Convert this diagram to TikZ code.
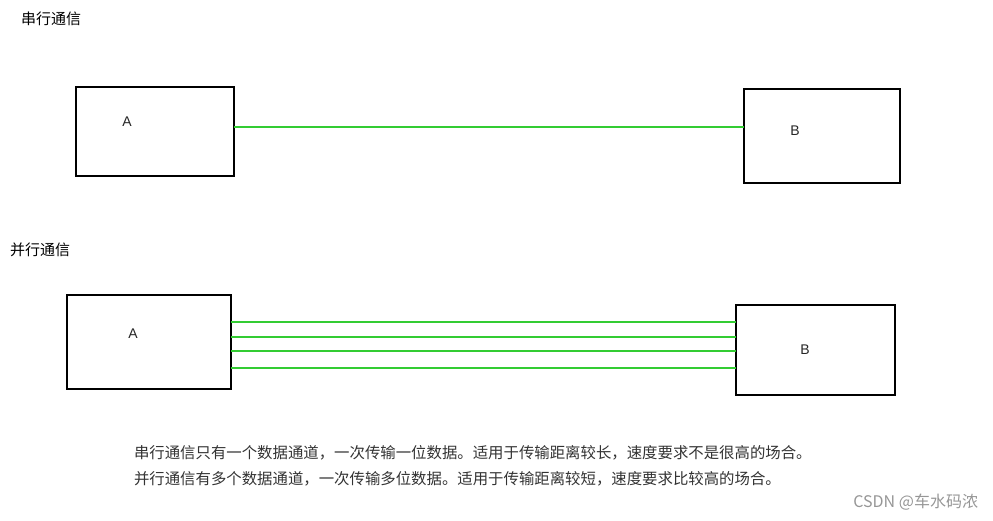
\documentclass[tikz,border=0pt]{standalone}
\usepackage{fontspec}
\newfontfamily\cjk{Noto Sans CJK SC}
\newfontfamily\latn{Liberation Sans}
\usetikzlibrary{positioning,calc}
\definecolor{wiregreen}{RGB}{51,204,51}
\definecolor{notegray}{RGB}{51,51,51}
\definecolor{markgray}{RGB}{150,150,150}

\begin{document}
\begin{tikzpicture}[
  x=1pt, y=-1pt,
  every node/.style={inner sep=0pt, outer sep=0pt},
  %% ─── styles ─────────────────────────────────────────
  heading/.style={anchor=west, font=\cjk\fontsize{15}{17}\selectfont, text=black},
  note/.style={anchor=west, font=\cjk\fontsize{15.4}{18}\selectfont, text=notegray},
  device/.style={draw=black, line width=2pt, fill=white},
  tag/.style={font=\latn\fontsize{14}{16}\selectfont, text=black!85},
  wire/.style={draw=wiregreen, line width=2pt}
]
  \useasboundingbox (0,0) rectangle (993,521);

  %% ════════════════════════════════════════════════════
  %%  串行通信
  %% ════════════════════════════════════════════════════
  \node[heading] (serialtitle) at (21,19) {串行通信};
  \node[device, minimum width=158pt, minimum height=89pt] (sA) at (155,131.5) {};
  \node[device, minimum width=156pt, minimum height=94pt] (sB) at (822,136) {};
  \node[tag] (sAtag) at (127,122) {A};
  \node[tag] (sBtag) at (795,131) {B};

  % single data channel
  \draw[wire] (sA.east |- 0,127) -- (sB.west |- 0,127);

  %% ════════════════════════════════════════════════════
  %%  并行通信
  %% ════════════════════════════════════════════════════
  \node[heading] (paralleltitle) at (10,250) {并行通信};
  \node[device, minimum width=164pt, minimum height=94pt] (pA) at (149,342) {};
  \node[device, minimum width=159pt, minimum height=90pt] (pB) at (815.5,350) {};
  \node[tag] (pAtag) at (133,334) {A};
  \node[tag] (pBtag) at (805,350) {B};

  % several data channels
  \foreach \yy in {322,337,351,368}
    \draw[wire] (pA.east |- 0,\yy) -- (pB.west |- 0,\yy);

  %% ════════════════════════════════════════════════════
  %%  说明文字
  %% ════════════════════════════════════════════════════
  \node[note] (serialnote) at (134,453) {串行通信只有一个数据通道，一次传输一位数据。适用于传输距离较长，速度要求不是很高的场合。};
  \node[note] (parallelnote) at (134,479) {并行通信有多个数据通道，一次传输多位数据。适用于传输距离较短，速度要求比较高的场合。};

  \node[anchor=east, font=\cjk\fontsize{16}{18}\selectfont, text=markgray] (mark) at (978,502) {CSDN @车水码浓};
\end{tikzpicture}
\end{document}
